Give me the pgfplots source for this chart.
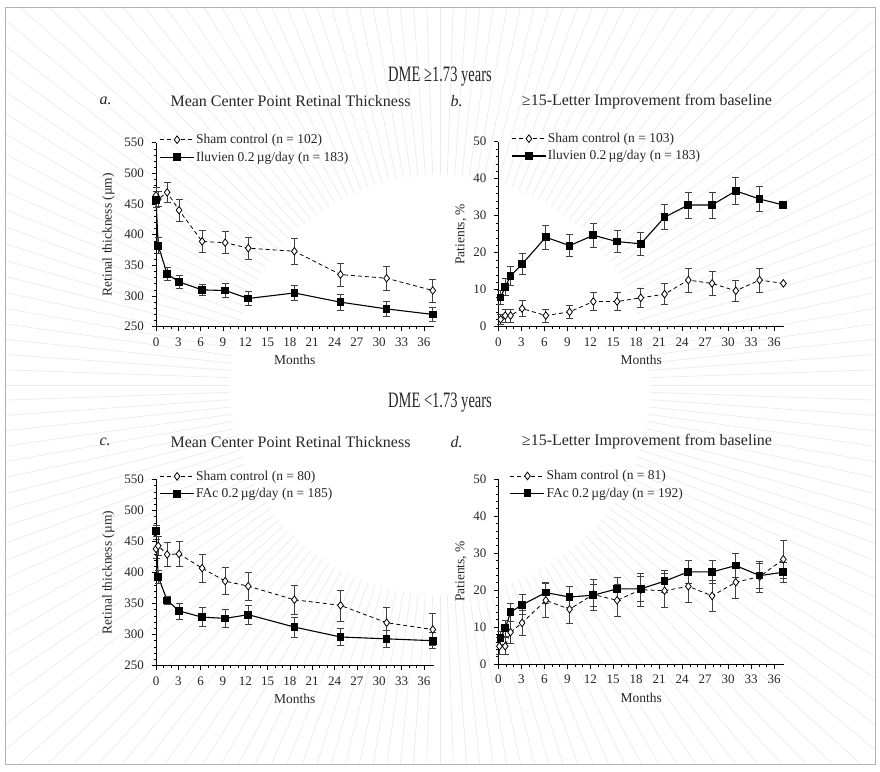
\documentclass[border=0pt]{standalone}
\usepackage{fontspec}
\setmainfont{Liberation Serif}
\usepackage{pgfplots}
\pgfplotsset{compat=1.18}

\pgfplotstableread{
x y e
0 464 13
0.3 458 12
1.5 469 17
3.1 440 18
6.2 389 18
9.3 387 18
12.4 378 18
18.6 373 21
24.8 335 19
31.0 329 20
37.2 309 19
}\shamA
\pgfplotstableread{
x y e
0 457 13
0.3 382 13
1.5 336 10
3.1 323 11
6.2 310 9
9.3 309 11
12.4 296 11
18.6 305 12
24.8 290 13
31.0 279 12
37.2 270 11
}\trtA
\pgfplotstableread{
x y e
0.3 2.0 1.3
0.9 3.0 1.7
1.6 3.0 1.7
3.1 4.9 2.1
6.2 3.0 1.7
9.3 4.0 1.8
12.4 6.8 2.4
15.5 6.8 2.4
18.6 7.8 2.6
21.7 8.8 2.8
24.8 12.6 3.3
27.9 11.7 3.2
31.0 9.7 2.9
34.1 12.6 3.3
37.2 11.7 0
}\shamB
\pgfplotstableread{
x y e
0.3 7.9 1.8
0.9 10.8 2.2
1.6 13.7 2.5
3.1 16.9 2.8
6.2 24.2 3.2
9.3 21.9 3.0
12.4 24.7 3.2
15.5 23.0 3.0
18.6 22.4 3.0
21.7 29.6 3.4
24.8 32.9 3.5
27.9 32.9 3.5
31.0 36.7 3.6
34.1 34.5 3.4
37.2 32.9 0
}\trtB
\pgfplotstableread{
x y e
0 438 15
0.3 443 15
1.5 429 19
3.1 430 20
6.2 407 23
9.3 386 22
12.4 378 23
18.6 356 24
24.8 347 25
31.0 319 24
37.2 308 26
}\shamC
\pgfplotstableread{
x y e
0 467 9
0.3 393 10
1.5 355 7
3.1 338 13
6.2 328 15
9.3 326 15
12.4 332 15
18.6 312 16
24.8 296 14
31.0 293 14
37.2 290 13
}\trtC
\pgfplotstableread{
x y e
0.15 4.8 2.3
0.9 4.8 2.3
1.6 8.6 3.0
3.1 11.1 3.4
6.2 17.2 4.6
9.3 14.8 3.7
12.4 18.8 4.2
15.5 17.2 4.2
18.6 20.1 4.4
21.7 19.8 4.6
24.8 21.0 4.3
27.9 18.4 4.2
31.0 22.1 4.3
34.1 23.6 4.1
37.2 28.3 5.2
}\shamD
\pgfplotstableread{
x y e
0.3 7.1 1.8
0.9 9.7 2.2
1.6 14.0 2.5
3.1 16.0 2.7
6.2 19.3 2.8
9.3 18.1 2.8
12.4 18.6 3.0
15.5 20.3 3.0
18.6 20.3 3.3
21.7 22.4 3.0
24.8 24.9 3.2
27.9 24.9 3.2
31.0 26.6 3.2
34.1 23.9 3.4
37.2 24.8 2.8
}\trtD

\newcommand\legfont{\fontsize{13.5}{13.5}\selectfont}
\pgfplotsset{
 panel/.style={
  scale only axis,
  axis x line*=bottom, axis y line*=left,
  xmin=0, xmax=37.3,
  xtick={0,3,...,36},
  minor x tick num=2,
  minor y tick num=4,
  tick align=outside,
  major tick length=4.5pt, minor tick length=2.5pt,
  every tick/.style={black, line width=0.6pt},
  axis line style={black, line width=0.7pt},
  /pgf/number format/assume math mode=true,
  ticklabel style={font=\fontsize{13}{13}\selectfont, text=black!85},
  yticklabel style={xshift=-4pt},
  xticklabel style={yshift=-3pt},
  label style={font=\fontsize{13.5}{14}\selectfont, text=black!85},
  xlabel={Months},
  xlabel style={yshift=-2pt},
  legend cell align=left,
  legend style={draw=none, fill=none, font=\legfont, nodes={font=\legfont, text=black!85, inner sep=1.5pt}, row sep=3.5pt, inner sep=0pt, anchor=north west},
  legend image code/.code={\draw[mark repeat=2,mark phase=2,##1] plot coordinates {(0pt,0pt)(17pt,0pt)(34pt,0pt)};},
  clip=false,
 },
 sham/.style={black, line width=0.8pt, dash pattern=on 4pt off 3pt, mark=diamond*, mark size=3.8pt,
  mark options={solid, fill=white, draw=black, line width=0.8pt},
  error bars/.cd, y dir=both, y explicit,
  error bar style={solid, line width=0.7pt, black!75},
  error mark options={solid, rotate=90, mark size=3.5pt, line width=0.7pt, black!75}},
 trt/.style={black, line width=1.1pt, solid, mark=square*, mark size=3.3pt,
  mark options={solid, fill=black, draw=black},
  error bars/.cd, y dir=both, y explicit,
  error bar style={solid, line width=0.7pt, black!75},
  error mark options={solid, rotate=90, mark size=3.5pt, line width=0.7pt, black!75}},
}

\begin{document}
\begin{tikzpicture}[x=1pt,y=1pt]
\path[use as bounding box] (0pt,0pt) rectangle (880pt,771pt);
\begin{scope}
\clip (5pt,7pt) rectangle (875pt,764pt);
\foreach \a in {0,2,...,358}
  \draw[black!8, line width=0.7pt] ([shift={(\a:210pt)}]440pt,386pt) -- ([shift={(\a:700pt)}]440pt,386pt);
\end{scope}
\draw[black!30, line width=0.8pt] (5pt,7pt) rectangle (875pt,764pt);

% headers
\node[font=\fontsize{22}{22}\selectfont, text=black!85] at (440pt,694pt) {\scalebox{0.66}[1]{DME ≥1.73 years}};
\node[font=\fontsize{22}{22}\selectfont, text=black!85] at (440pt,368pt) {\scalebox{0.66}[1]{DME <1.73 years}};
% panel labels and titles
\node[anchor=west, font=\fontsize{16}{16}\selectfont\itshape, text=black!85] at (96pt,670.3pt) {a.};
\node[anchor=west, font=\fontsize{16}{16}\selectfont\itshape, text=black!85] at (447pt,670.3pt) {b.};
\node[anchor=west, font=\fontsize{16}{16}\selectfont\itshape, text=black!85] at (96pt,329.3pt) {c.};
\node[anchor=west, font=\fontsize{16}{16}\selectfont\itshape, text=black!85] at (447pt,329.3pt) {d.};
\node[font=\fontsize{16}{16}\selectfont, text=black!85] at (290.5pt,670.3pt) {Mean Center Point Retinal Thickness};
\node[font=\fontsize{16}{16}\selectfont, text=black!85] at (647pt,669.3pt) {≥15-Letter Improvement from baseline};
\node[font=\fontsize{16}{16}\selectfont, text=black!85] at (290.5pt,329.3pt) {Mean Center Point Retinal Thickness};
\node[font=\fontsize{16}{16}\selectfont, text=black!85] at (647pt,329.3pt) {≥15-Letter Improvement from baseline};

% panel a
\begin{axis}[panel, at={(156pt,444.3pt)}, anchor=south west, width=277.5pt, height=184pt,
  ymin=250, ymax=550, ytick={250,300,...,550}, ylabel={Retinal thickness (µm)},
  ylabel style={yshift=3pt},
  legend style={at={(axis description cs:0.012,1.055)}}]
\addplot[sham] table[x=x,y=y,y error=e] {\shamA};
\addlegendentry{Sham control (n = 102)}
\addplot[trt] table[x=x,y=y,y error=e] {\trtA};
\addlegendentry{Iluvien 0.2\,µg/day (n = 183)}
\end{axis}

% panel b
\begin{axis}[panel, at={(498.3pt,444.3pt)}, anchor=south west, width=285.8pt, height=185pt,
  ymin=0, ymax=50, ytick={0,10,...,50}, ylabel={Patients, \%},
  legend style={at={(axis description cs:0.045,1.055)}}]
\addplot[sham] table[x=x,y=y,y error=e] {\shamB};
\addlegendentry{Sham control (n = 103)}
\addplot[trt] table[x=x,y=y,y error=e] {\trtB};
\addlegendentry{Iluvien 0.2\,µg/day (n = 183)}
\end{axis}

% panel c
\begin{axis}[panel, at={(156pt,105.5pt)}, anchor=south west, width=277.5pt, height=186pt,
  ymin=250, ymax=550, ytick={250,300,...,550}, ylabel={Retinal thickness (µm)},
  ylabel style={yshift=3pt},
  legend style={at={(axis description cs:0.012,1.055)}}]
\addplot[sham] table[x=x,y=y,y error=e] {\shamC};
\addlegendentry{Sham control (n = 80)}
\addplot[trt] table[x=x,y=y,y error=e] {\trtC};
\addlegendentry{FAc 0.2\,µg/day (n = 185)}
\end{axis}

% panel d
\begin{axis}[panel, at={(498.3pt,107pt)}, anchor=south west, width=285.8pt, height=185pt,
  ymin=0, ymax=50, ytick={0,10,...,50}, ylabel={Patients, \%},
  legend style={at={(axis description cs:0.04,1.055)}}]
\addplot[sham] table[x=x,y=y,y error=e] {\shamD};
\addlegendentry{Sham control (n = 81)}
\addplot[trt] table[x=x,y=y,y error=e] {\trtD};
\addlegendentry{FAc 0.2\,µg/day (n = 192)}
\end{axis}
\end{tikzpicture}
\end{document}
